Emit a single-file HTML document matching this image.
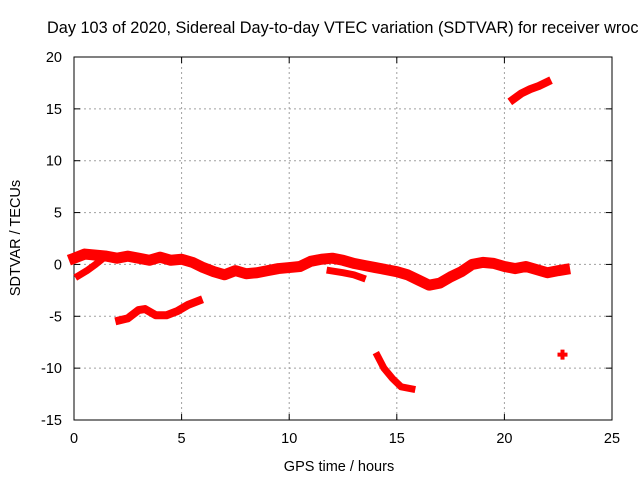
<!DOCTYPE html>
<html><head><meta charset="utf-8"><style>
html,body{margin:0;padding:0;background:#fff;overflow:hidden}
svg{display:block;font-family:"Liberation Sans",sans-serif}
</style></head><body>
<svg id="chart" width="640" height="480">
<text x="47" y="33" font-size="16.3" fill="#000">Day 103 of 2020, Sidereal Day-to-day VTEC variation (SDTVAR) for receiver wroc</text>
<g id="grid"></g>
<g id="axes"></g>
<g id="series"></g>
<text x="339" y="471" font-size="14.5" text-anchor="middle">GPS time / hours</text>
<text transform="translate(20,238) rotate(-90)" font-size="14.5" text-anchor="middle">SDTVAR / TECUs</text>
</svg>
<script>
const xTicks=[0,5,10,15,20,25];
const yTicks=[-15,-10,-5,0,5,10,15,20];
const mainHours=[0,0.5,1,1.5,2,2.5,3,3.5,4,4.5,5,5.5,6,6.5,7,7.5,8,8.5,9,9.5,10,10.5,11,11.5,12,12.5,13,13.5,14,14.5,15,15.5,16,16.5,17,17.5,18,18.5,19,19.5,20,20.5,21,21.5,22,22.5,22.8];
const mainVals=[0.6,1.0,0.9,0.8,0.6,0.8,0.6,0.4,0.7,0.4,0.5,0.2,-0.3,-0.7,-1.0,-0.6,-0.9,-0.8,-0.6,-0.4,-0.3,-0.2,0.3,0.5,0.6,0.4,0.1,-0.1,-0.3,-0.5,-0.7,-1.0,-1.5,-2.0,-1.8,-1.2,-0.7,0.0,0.2,0.1,-0.2,-0.4,-0.2,-0.5,-0.8,-0.6,-0.5];
const riseHours=[0.2,0.6,1.0,1.3];
const riseVals=[-1.1,-0.6,0,0.5];
const lowHours=[2.1,2.5,3.0,3.3,3.8,4.3,4.8,5.3,5.8];
const lowVals=[-5.4,-5.2,-4.4,-4.3,-4.9,-4.9,-4.5,-3.9,-3.5];
const branchHours=[11.9,12.5,13,13.4];
const branchVals=[-0.6,-0.8,-1.0,-1.3];
const dropHours=[14.1,14.4,14.8,15.2,15.7];
const dropVals=[-8.8,-10,-11,-11.8,-12.0];
const topHours=[20.4,20.8,21.2,21.6,22.0];
const topVals=[15.9,16.5,16.9,17.2,17.6];
const pointHours=[22.7];
const pointVals=[-8.7];

const L=74,R=612,T=57,B=420;
const xs=h=>L+(h-0)/(25-0)*(R-L);
const ys=v=>B-(v+15)/(35)*(B-T);
const NS="http://www.w3.org/2000/svg";
function mk(tag,parent){const e=document.createElementNS(NS,tag);parent.appendChild(e);return e;}
const grid=document.getElementById('grid'),axes=document.getElementById('axes'),ser=document.getElementById('series');

xTicks.forEach(t=>{
  const x=xs(t);
  if(t>0&&t<25){const g=mk('line',grid);g.setAttribute('x1',x);g.setAttribute('x2',x);g.setAttribute('y1',T);g.setAttribute('y2',B);g.setAttribute('stroke','#a0a0a0');g.setAttribute('stroke-dasharray','2,3');
  
  }
  const tk=mk('line',axes);tk.setAttribute('x1',x);tk.setAttribute('x2',x);tk.setAttribute('y1',B);tk.setAttribute('y2',B-6);tk.setAttribute('stroke','#000');
  
  
  const tk2=mk('line',axes);tk2.setAttribute('x1',x);tk2.setAttribute('x2',x);tk2.setAttribute('y1',T);tk2.setAttribute('y2',T+6);tk2.setAttribute('stroke','#000');
  
  
  const lb=mk('text',axes);lb.setAttribute('x',x);lb.setAttribute('y',443);lb.setAttribute('font-size','14.5');lb.setAttribute('text-anchor','middle');lb.textContent=t;
  
  
});
yTicks.forEach(t=>{
  const y=ys(t);
  if(t>-15&&t<20){const g=mk('line',grid);g.setAttribute('x1',L);g.setAttribute('x2',R);g.setAttribute('y1',y);g.setAttribute('y2',y);g.setAttribute('stroke','#a0a0a0');g.setAttribute('stroke-dasharray','2,3');
  
  }
  const tk=mk('line',axes);tk.setAttribute('x1',L);tk.setAttribute('x2',L+6);tk.setAttribute('y1',y);tk.setAttribute('y2',y);tk.setAttribute('stroke','#000');
  
  
  const tk2=mk('line',axes);tk2.setAttribute('x1',R);tk2.setAttribute('x2',R-6);tk2.setAttribute('y1',y);tk2.setAttribute('y2',y);tk2.setAttribute('stroke','#000');
  
  
  const lb=mk('text',axes);lb.setAttribute('x',L-12);lb.setAttribute('y',y+5);lb.setAttribute('font-size','14.5');lb.setAttribute('text-anchor','end');lb.textContent=t;
  
  
});
const frame=mk('rect',axes);frame.setAttribute('x',L);frame.setAttribute('y',T);frame.setAttribute('width',R-L);frame.setAttribute('height',B-T);frame.setAttribute('fill','none');frame.setAttribute('stroke','#000');



function band(hs,vs,w,name){
  const p=mk('polyline',ser);
  p.setAttribute('points',hs.map((h,i)=>xs(h)+','+ys(vs[i])).join(' '));
  p.setAttribute('fill','none');p.setAttribute('stroke','#f00');p.setAttribute('stroke-width',w);
  p.setAttribute('stroke-linejoin','round');p.setAttribute('stroke-linecap','square');
  
  
}
band(mainHours,mainVals,11,'main-series-band');
band(riseHours,riseVals,7,'rising-series-segment');
band(lowHours,lowVals,8,'low-series-segment');
band(branchHours,branchVals,7,'branch-series-segment');
band(dropHours,dropVals,7,'dropping-series-segment');
band(topHours,topVals,8,'top-series-segment');
pointHours.forEach((h,i)=>{
  const x=xs(h),y=ys(pointVals[i]);
  const c=mk('path',ser);
  c.setAttribute('d',`M${x-5},${y}H${x+5}M${x},${y-5}V${y+5}`);
  c.setAttribute('stroke','#f00');c.setAttribute('stroke-width','4');
  
  
});
</script>
</body></html>
